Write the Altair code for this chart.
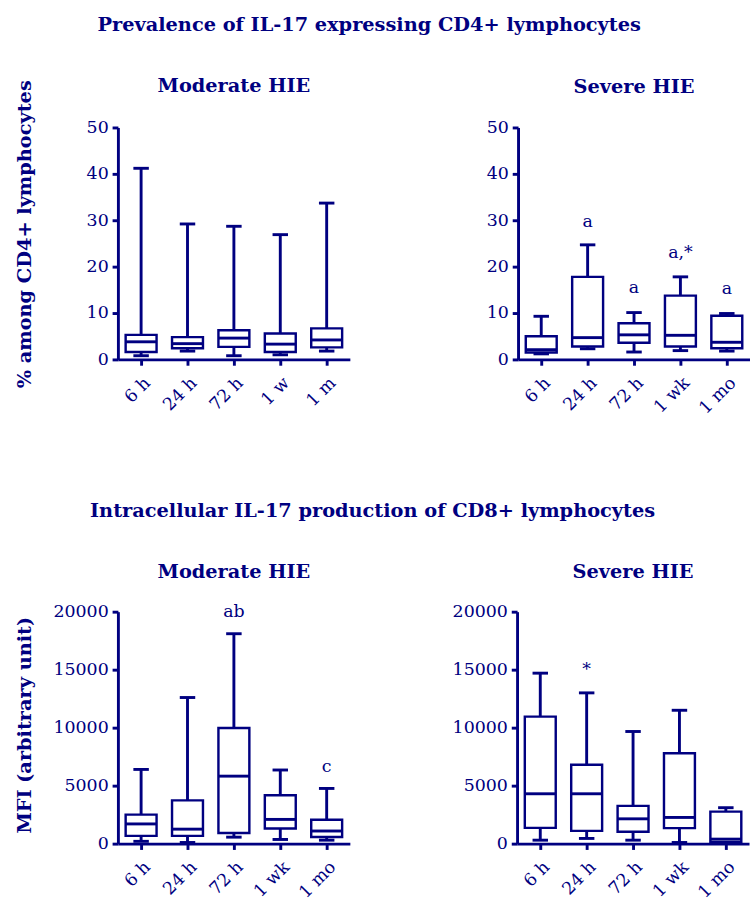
import altair as alt
import pandas as pd

NAVY = "#000080"
FONT = "DejaVu Serif"

# ---- categories ----
times_cd4_mod = ["6 h", "24 h", "72 h", "1 w", "1 m"]
times = ["6 h", "24 h", "72 h", "1 wk", "1 mo"]

# ---- % IL-17+ among CD4+ : Moderate HIE ----
cd4_mod_min = [0.8, 1.8, 0.8, 1.0, 1.8]
cd4_mod_q1 = [1.6, 2.4, 2.7, 1.6, 2.6]
cd4_mod_med = [3.8, 3.4, 4.6, 3.3, 4.2]
cd4_mod_q3 = [5.3, 4.8, 6.3, 5.6, 6.7]
cd4_mod_max = [41.2, 29.2, 28.7, 26.9, 33.7]

# ---- % IL-17+ among CD4+ : Severe HIE ----
cd4_sev_min = [1.2, 2.3, 1.6, 1.9, 1.8]
cd4_sev_q1 = [1.5, 2.8, 3.6, 2.8, 2.4]
cd4_sev_med = [2.1, 4.7, 5.3, 5.2, 3.7]
cd4_sev_q3 = [5.0, 17.8, 7.8, 13.75, 9.4]
cd4_sev_max = [9.3, 24.7, 10.1, 17.8, 9.9]
cd4_sev_note_t = ["24 h", "72 h", "1 wk", "1 mo"]
cd4_sev_note_txt = ["a", "a", "a,*", "a"]
cd4_sev_note_y = [29.6, 15.3, 23.0, 15.1]

# ---- MFI CD8+ : Moderate HIE ----
cd8_mod_min = [200, 100, 560, 360, 300]
cd8_mod_q1 = [670, 670, 920, 1310, 580]
cd8_mod_med = [1700, 1250, 5820, 2090, 1090]
cd8_mod_q3 = [2500, 3730, 9970, 4180, 2060]
cd8_mod_max = [6400, 12600, 18100, 6350, 4760]
cd8_mod_note_t = ["72 h", "1 mo"]
cd8_mod_note_txt = ["ab", "c"]
cd8_mod_note_y = [20000, 6600]

# ---- MFI CD8+ : Severe HIE ----
cd8_sev_min = [300, 450, 300, 100, 50]
cd8_sev_q1 = [1360, 1100, 1030, 1340, 140]
cd8_sev_med = [4300, 4300, 2140, 2260, 390]
cd8_sev_q3 = [10950, 6800, 3260, 7800, 2760]
cd8_sev_max = [14700, 13000, 9670, 11500, 3100]
cd8_sev_note_t = ["24 h"]
cd8_sev_note_txt = ["*"]
cd8_sev_note_y = [15000]


def panel(tlist, mn, q1, med, q3, mx, ymax, yvals, title, title_offset,
          ytitle=None, ytitle_y=110, notes=None):
    df = pd.DataFrame({"t": tlist, "mn": mn, "q1": q1, "med": med, "q3": q3, "mx": mx})
    xscale = alt.Scale(type="point", padding=0.5, domain=tlist)
    yscale = alt.Scale(domain=[0, ymax], nice=False, zero=True)
    xaxis = alt.Axis(title=None, labelAngle=-45, labelPadding=9, labelOverlap=False)
    yargs = dict(values=yvals, format="d", labelPadding=4)
    if ytitle:
        yargs.update(title=ytitle, titleX=-86, titleY=ytitle_y, titleFont=FONT,
                     titleFontWeight="bold", titleFontSize=20, titleColor=NAVY)
    else:
        yargs.update(title=None)
    yaxis = alt.Axis(**yargs)
    base = alt.Chart(df).encode(x=alt.X("t:N", scale=xscale, axis=xaxis))
    whisk = base.mark_rule(color=NAVY, strokeWidth=3).encode(
        y=alt.Y("mn:Q", scale=yscale, axis=yaxis), y2="mx:Q")
    box = base.mark_bar(size=32, fill="white", stroke=NAVY, strokeWidth=2.5,
                        opacity=1).encode(y="q1:Q", y2="q3:Q")
    medt = base.mark_tick(color=NAVY, size=32, thickness=3, opacity=1).encode(y="med:Q")
    cap1 = base.mark_tick(color=NAVY, size=16, thickness=3, opacity=1).encode(y="mn:Q")
    cap2 = base.mark_tick(color=NAVY, size=16, thickness=3, opacity=1).encode(y="mx:Q")
    layers = [whisk, box, medt, cap1, cap2]
    if notes is not None:
        ndf = pd.DataFrame({"t": notes[0], "txt": notes[1], "y": notes[2]})
        layers.append(alt.Chart(ndf).mark_text(font=FONT, fontSize=18, color=NAVY,
                                               baseline="middle").encode(
            x=alt.X("t:N", scale=xscale), y=alt.Y("y:Q", scale=yscale), text="txt:N"))
    return alt.layer(*layers).properties(
        width=240, height=240,
        title=alt.TitleParams(title, fontSize=20, offset=title_offset, frame="group",
                              anchor="middle"))


tl = panel(times_cd4_mod, cd4_mod_min, cd4_mod_q1, cd4_mod_med, cd4_mod_q3, cd4_mod_max,
           50, [0, 10, 20, 30, 40, 50], "Moderate HIE", -17,
           ytitle="% among CD4+ lymphocytes", ytitle_y=110)
tr = panel(times, cd4_sev_min, cd4_sev_q1, cd4_sev_med, cd4_sev_q3, cd4_sev_max,
           50, [0, 10, 20, 30, 40, 50], "Severe HIE", 23,
           notes=(cd4_sev_note_t, cd4_sev_note_txt, cd4_sev_note_y))
bl = panel(times, cd8_mod_min, cd8_mod_q1, cd8_mod_med, cd8_mod_q3, cd8_mod_max,
           20000, [0, 5000, 10000, 15000, 20000], "Moderate HIE", 22,
           ytitle="MFI (arbitrary unit)", ytitle_y=117,
           notes=(cd8_mod_note_t, cd8_mod_note_txt, cd8_mod_note_y))
br = panel(times, cd8_sev_min, cd8_sev_q1, cd8_sev_med, cd8_sev_q3, cd8_sev_max,
           20000, [0, 5000, 10000, 15000, 20000], "Severe HIE", 22,
           notes=(cd8_sev_note_t, cd8_sev_note_txt, cd8_sev_note_y))

top = alt.hconcat(tl, tr, spacing=141, title=alt.TitleParams(
    "Prevalence of IL-17 expressing CD4+ lymphocytes", fontSize=20, offset=43,
    anchor="middle", dx=-14))
bottom = alt.hconcat(bl, br, spacing=105, title=alt.TitleParams(
    "Intracellular IL-17 production of CD8+ lymphocytes", fontSize=20, offset=43,
    anchor="middle", dx=-10))

chart = alt.vconcat(top, bottom, spacing=87).properties(
    padding={"left": 15, "top": 0, "right": 0, "bottom": 0}
).configure(font=FONT).configure_view(stroke=None).configure_axis(
    domainColor=NAVY, domainWidth=3, tickColor=NAVY, tickWidth=3, tickSize=6,
    labelColor=NAVY, labelFont=FONT, labelFontSize=18, grid=False,
).configure_title(font=FONT, fontWeight="bold", color=NAVY)

chart.save("out.html", embed_options={"renderer": "svg", "actions": False})
